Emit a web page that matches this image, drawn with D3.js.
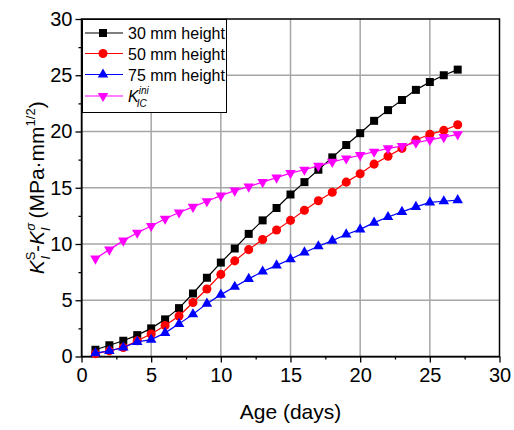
<!DOCTYPE html>
<html>
<head>
<meta charset="utf-8">
<script src="https://cdn.jsdelivr.net/npm/d3@7.9.0/dist/d3.min.js"></script>
<style>
  body { margin: 0; background: #fff; }
  svg { font-family: "Liberation Sans", Arial, sans-serif; }
</style>
</head>
<body>
<div id="chart"></div>
<script>
const days = d3.range(1, 28);

const h30 = [0.6, 1.0, 1.4, 1.9, 2.5, 3.3, 4.3, 5.6, 7.0, 8.35, 9.6, 10.9, 12.1, 13.2, 14.4, 15.5,
  16.6, 17.7, 18.8, 19.85, 20.95, 21.9, 22.8, 23.7, 24.4, 25.0, 25.5];
const h50 = [0.25, 0.5, 0.8, 1.4, 2.0, 2.75, 3.6, 4.8, 6.0, 7.3, 8.5, 9.5, 10.4, 11.25, 12.1, 13.0,
  13.85, 14.6, 15.5, 16.25, 17.1, 17.8, 18.5, 19.25, 19.75, 20.1, 20.6];
const h75 = [0.3, 0.5, 0.8, 1.3, 1.5, 2.1, 2.9, 3.75, 4.7, 5.5, 6.2, 6.9, 7.55, 8.1, 8.65, 9.25,
  9.8, 10.3, 10.85, 11.3, 11.9, 12.4, 12.85, 13.3, 13.7, 13.8, 13.9];
const kic = [8.7, 9.5, 10.3, 11.0, 11.6, 12.25, 12.8, 13.3, 13.8, 14.3, 14.75, 15.1, 15.5, 15.9,
  16.3, 16.6, 16.95, 17.3, 17.6, 17.9, 18.2, 18.5, 18.7, 19.0, 19.25, 19.5, 19.75];

const xTicks = [0, 5, 10, 15, 20, 25, 30];
const yTicks = [0, 5, 10, 15, 20, 25, 30];

const series = [
  { name: "30 mm height", values: h30, color: "#000000", symbol: d3.symbolSquare, size: 64 },
  { name: "50 mm height", values: h50, color: "#ff0000", symbol: d3.symbolCircle, size: 64 },
  { name: "75 mm height", values: h75, color: "#0000ff", symbol: d3.symbolTriangle, size: 48 },
  { name: "KIC", values: kic, color: "#ff00ff", symbol: d3.symbolTriangle, size: 48, flip: true }
];

const width = 514;
const height = 430;
const margin = { top: 19, right: 14.5, bottom: 73.5, left: 81.5 };

const svg = d3.select("#chart")
  .append("svg")
  .attr("width", width)
  .attr("height", height);

const xScale = d3.scaleLinear()
  .domain([0, 30])
  .range([margin.left, width - margin.right]);

const yScale = d3.scaleLinear()
  .domain([0, 30])
  .range([height - margin.bottom, margin.top]);

// gridlines
const grid = svg.append("g").attr("stroke", "#a6a6a6").attr("stroke-width", 1.5);
grid.selectAll(".gx")
  .data(xTicks.slice(1, -1))
  .join("line")
  .attr("x1", d => xScale(d)).attr("x2", d => xScale(d))
  .attr("y1", yScale(0)).attr("y2", yScale(30));
grid.selectAll(".gy")
  .data(yTicks.slice(1, -1))
  .join("line")
  .attr("y1", d => yScale(d)).attr("y2", d => yScale(d))
  .attr("x1", xScale(0)).attr("x2", xScale(30));

// axes
svg.append("g")
  .attr("transform", `translate(0, ${yScale(0)})`)
  .call(d3.axisBottom(xScale).tickValues(xTicks).tickSize(6).tickPadding(5).tickSizeOuter(0));
svg.append("g")
  .attr("transform", `translate(${xScale(0)}, 0)`)
  .call(d3.axisLeft(yScale).tickValues(yTicks).tickSize(6).tickPadding(3).tickSizeOuter(0));

// minor ticks
svg.append("g")
  .attr("transform", `translate(0, ${yScale(0)})`)
  .call(d3.axisBottom(xScale).tickValues(d3.range(2.5, 30, 5)).tickSize(3).tickFormat("").tickSizeOuter(0))
  .select(".domain").remove();
svg.append("g")
  .attr("transform", `translate(${xScale(0)}, 0)`)
  .call(d3.axisLeft(yScale).tickValues(d3.range(2.5, 30, 5)).tickSize(3).tickFormat("").tickSizeOuter(0))
  .select(".domain").remove();

svg.selectAll(".tick text")
  .attr("font-size", 20)
  .attr("fill", "#000")
  .attr("font-family", "Liberation Sans, Arial, sans-serif");
svg.selectAll(".tick line").attr("stroke-width", 1.3);

// frame
svg.append("rect")
  .attr("x", xScale(0)).attr("y", yScale(30))
  .attr("width", xScale(30) - xScale(0))
  .attr("height", yScale(0) - yScale(30))
  .attr("fill", "none")
  .attr("stroke", "#000")
  .attr("stroke-width", 1.5);

// lines and markers
const line = d3.line()
  .x((d, i) => xScale(days[i]))
  .y(d => yScale(d));

series.forEach(s => {
  svg.append("path")
    .datum(s.values)
    .attr("fill", "none")
    .attr("stroke", s.color)
    .attr("stroke-width", 1.2)
    .attr("d", line);

  svg.append("g")
    .selectAll("path")
    .data(s.values)
    .join("path")
    .attr("d", d3.symbol().type(s.symbol).size(s.size))
    .attr("transform", (d, i) => `translate(${xScale(days[i])}, ${yScale(d)})` + (s.flip ? " rotate(180)" : ""))
    .attr("fill", s.color);
});

// legend
const legend = svg.append("g");
legend.append("rect")
  .attr("x", 82.5).attr("y", 19.5)
  .attr("width", 144).attr("height", 93)
  .attr("fill", "#fff")
  .attr("stroke", "#000")
  .attr("stroke-width", 1);

const rowY = [33, 53.5, 74.5, 96];
series.forEach((s, i) => {
  const g = legend.append("g").attr("transform", `translate(0, ${rowY[i]})`);
  g.append("line")
    .attr("x1", 85).attr("x2", 123)
    .attr("stroke", s.color).attr("stroke-width", 1.2);
  g.append("path")
    .attr("d", d3.symbol().type(s.symbol).size(s.size))
    .attr("transform", `translate(103, 0)` + (s.flip ? " rotate(180)" : ""))
    .attr("fill", s.color);
  const t = g.append("text")
    .attr("x", 128).attr("y", 6)
    .attr("font-size", 16);
  if (s.flip) {
    t.append("tspan").attr("font-style", "italic").text("K");
    t.append("tspan").attr("font-style", "italic").attr("font-size", 10).attr("dy", -8).text("ini");
    t.append("tspan").attr("font-style", "italic").attr("font-size", 10).attr("dx", -12).attr("dy", 13).text("IC");
  } else {
    t.text(s.name);
  }
});

// axis titles
svg.append("text")
  .attr("x", (xScale(0) + xScale(30)) / 2)
  .attr("y", 419)
  .attr("text-anchor", "middle")
  .attr("font-size", 21)
  .text("Age (days)");

const yl = svg.append("text")
  .attr("transform", `translate(44, ${yScale(15)}) rotate(-90)`)
  .attr("text-anchor", "middle")
  .attr("font-size", 21);
yl.append("tspan").attr("font-style", "italic").text("K");
yl.append("tspan").attr("font-size", 13).attr("dy", -9).text("S");
yl.append("tspan").attr("font-size", 13).attr("font-style", "italic").attr("dx", -8).attr("dy", 15).text("I");
yl.append("tspan").attr("dx", 4).attr("dy", -6).text("-");
yl.append("tspan").attr("font-style", "italic").text("K");
yl.append("tspan").attr("font-size", 13).attr("font-style", "italic").attr("dy", -9).text("σ");
yl.append("tspan").attr("font-size", 13).attr("font-style", "italic").attr("dx", -8).attr("dy", 15).text("I");
yl.append("tspan").attr("dx", 3).attr("dy", -6).text("\u00a0(MPa·mm");
yl.append("tspan").attr("font-size", 13).attr("dy", -9).text("1/2");
yl.append("tspan").attr("dy", 9).text(")");
</script>
</body>
</html>
